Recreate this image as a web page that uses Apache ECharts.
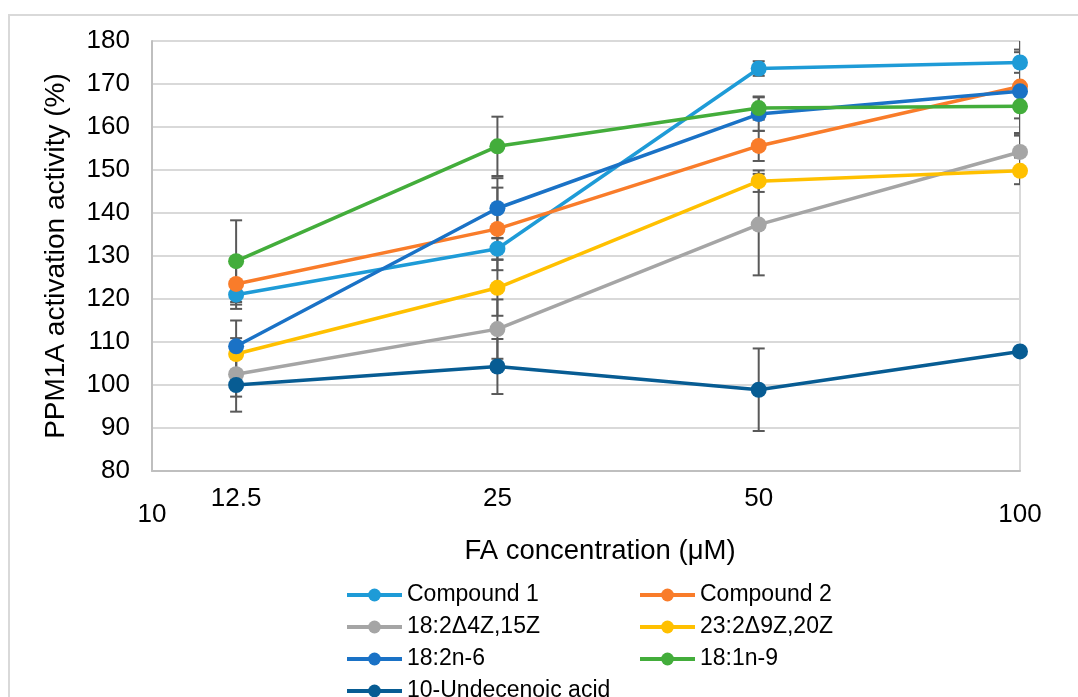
<!DOCTYPE html>
<html>
<head>
<meta charset="utf-8">
<script src="https://cdn.jsdelivr.net/npm/echarts@6/dist/echarts.min.js"></script>
<style>
html,body{margin:0;padding:0;background:#fff;overflow:hidden;}
#frame{position:absolute;left:8px;top:14px;width:1200px;height:800px;border:2px solid #d9d9d9;box-sizing:border-box;}
#chart{position:absolute;left:0;top:0;width:1078px;height:697px;}
</style>
</head>
<body>
<div id="frame"></div>
<div id="chart"></div>
<script>
// ---- data ----
const concentrations = [12.5, 25, 50, 100];
const xTickLabels = [10, 12.5, 25, 50, 100];
const seriesNames = ['Compound 1', 'Compound 2', '18:2Δ4Z,15Z', '23:2Δ9Z,20Z', '18:2n-6', '18:1n-9', '10-Undecenoic acid'];
const compound1 = [121.0, 131.7, 173.6, 175.0];
const compound2 = [123.5, 136.3, 155.6, 169.4];
const fa18_2d4z15z = [102.5, 113.0, 137.3, 154.2];
const fa23_2d9z20z = [107.2, 122.6, 147.4, 149.8];
const fa18_2n6 = [109.0, 141.1, 163.0, 168.3];
const fa18_1n9 = [128.8, 155.5, 164.4, 164.8];
const undecenoic = [100.0, 104.3, 98.9, 107.8];
const errCompound1 = [3.3, 2.5, 1.7, 2.4];
const errCompound2 = [4.8, 9.6, 3.5, 11.0];
const err18_2d4z15z = [5.2, 6.9, 11.8, 3.8];
const err23_2d9z20z = [3.7, 6.5, 2.5, 3.1];
const err18_2n6 = [6.0, 7.0, 3.9, 9.7];
const err18_1n9 = [9.5, 6.9, 2.7, 2.8];
const errUndecenoic = [6.2, 6.4, 9.6, 0.8];

const allValues = [compound1, compound2, fa18_2d4z15z, fa23_2d9z20z, fa18_2n6, fa18_1n9, undecenoic];
const allErrors = [errCompound1, errCompound2, err18_2d4z15z, err23_2d9z20z, err18_2n6, err18_1n9, errUndecenoic];
const colors = ['#1e9bd7', '#f97c2a', '#a5a5a5', '#ffc000', '#1a72c6', '#43ad3b', '#075c93'];

const FONT = 'Liberation Sans, Arial, sans-serif';
const chart = echarts.init(document.getElementById('chart'), null, {renderer: 'canvas'});

const errorSeries = allValues.map((vals, si) => ({
  type: 'custom',
  name: seriesNames[si] + ' err',
  z: 1,
  clip: true,
  silent: true,
  data: vals.map((v, i) => [concentrations[i], v, allErrors[si][i]]),
  renderItem: function (params, api) {
    const x = api.value(0), v = api.value(1), e = api.value(2);
    const hi = api.coord([x, v + e]);
    const lo = api.coord([x, v - e]);
    const cw = 6;
    const style = {stroke: '#595959', lineWidth: 2, fill: null};
    return {
      type: 'group',
      children: [
        {type: 'line', shape: {x1: hi[0], y1: hi[1], x2: lo[0], y2: lo[1]}, style: style},
        {type: 'line', shape: {x1: hi[0] - cw, y1: hi[1], x2: hi[0] + cw, y2: hi[1]}, style: style},
        {type: 'line', shape: {x1: lo[0] - cw, y1: lo[1], x2: lo[0] + cw, y2: lo[1]}, style: style}
      ]
    };
  }
}));

const lineSeries = allValues.map((vals, si) => ({
  type: 'line',
  name: seriesNames[si],
  z: 3,
  data: vals.map((v, i) => [concentrations[i], v]),
  symbol: 'circle',
  symbolSize: 16,
  lineStyle: {width: 3.5, color: colors[si]},
  itemStyle: {color: colors[si]},
  emphasis: {disabled: true}
}));

const legendText = {fontFamily: FONT, fontSize: 23, color: '#000', lineHeight: 24};
const legendCommon = {
  orient: 'vertical',
  top: 583,
  height: 200,
  padding: 0,
  itemWidth: 55,
  itemHeight: 16,
  itemGap: 8,
  textStyle: legendText,
  lineStyle: {width: 4},
  selectedMode: false
};

const option = {
  animation: false,
  color: colors,
  grid: {left: 152, right: 58, top: 41, bottom: 226, containLabel: false},
  xAxis: {
    type: 'log',
    logBase: 10,
    min: 10,
    max: 100,
    name: 'FA concentration (μM)',
    nameLocation: 'middle',
    nameGap: 58,
    nameTextStyle: {fontFamily: FONT, fontSize: 27.5, color: '#000', padding: [8, 0, 0, 28]},
    axisLine: {show: true, lineStyle: {color: '#bfbfbf', width: 2}},
    axisTick: {show: false},
    splitLine: {show: true, lineStyle: {color: '#d9d9d9', width: 2}},
    axisLabel: {
      customValues: xTickLabels,
      margin: 15,
      fontFamily: FONT,
      fontSize: 26,
      color: '#000',
      formatter: function (v) {
        return (v === xTickLabels[0] || v === xTickLabels[xTickLabels.length - 1]) ? '{low|' + v + '}' : '{hi|' + v + '}';
      },
      rich: {
        low: {fontFamily: FONT, fontSize: 26, color: '#000', padding: [16, 0, 0, 0]},
        hi: {fontFamily: FONT, fontSize: 26, color: '#000'}
      }
    }
  },
  yAxis: {
    type: 'value',
    min: 80,
    max: 180,
    interval: 10,
    name: 'PPM1A activation activity (%)',
    nameLocation: 'middle',
    nameGap: 82,
    nameTextStyle: {fontFamily: FONT, fontSize: 28, color: '#000'},
    axisLine: {show: true, lineStyle: {color: '#bfbfbf', width: 2}},
    axisTick: {show: false},
    splitLine: {show: true, lineStyle: {color: '#d9d9d9', width: 2}},
    axisLabel: {fontFamily: FONT, fontSize: 26, color: '#000', margin: 22}
  },
  legend: [
    Object.assign({data: [seriesNames[0], seriesNames[2], seriesNames[4], seriesNames[6]], left: 345}, legendCommon),
    Object.assign({data: [seriesNames[1], seriesNames[3], seriesNames[5]], left: 638}, legendCommon)
  ],
  series: errorSeries.concat(lineSeries)
};
chart.setOption(option);
</script>
</body>
</html>
